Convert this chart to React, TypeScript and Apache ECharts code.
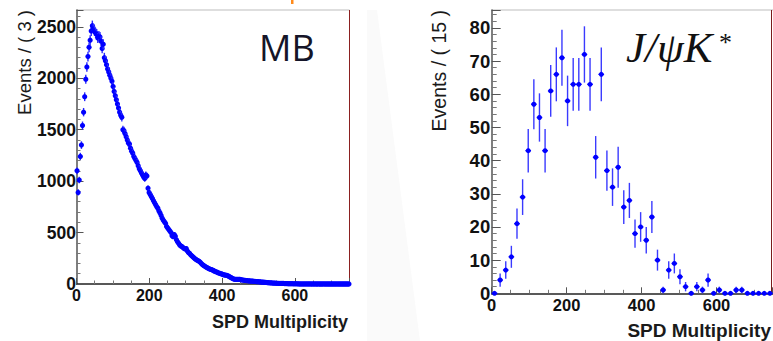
import React, { useEffect, useRef } from "react";
import * as echarts from "echarts";

// ---- Data ----
const MB_BIN_WIDTH = 3;
const MB_COUNTS = [
  1100, 890, 1010, 1240, 1350, 1540, 1670, 1820, 1990, 2110,
  2210, 2300, 2370, 2460, 2510, 2480, 2460, 2440, 2430, 2390,
  2410, 2400, 2360, 2290, 2330, 2200, 2170, 2130, 2090, 2060,
  2030, 2000, 1970, 1920, 1870, 1830, 1790, 1750, 1710, 1670,
  1640, 1620, 1500, 1490, 1460, 1430, 1400, 1370, 1360, 1320,
  1290, 1270, 1240, 1220, 1200, 1180, 1150, 1120, 1100, 1080,
  1060, 1040, 1025, 1060, 1050, 930, 890, 870, 850, 830,
  810, 790, 770, 750, 735, 710, 690, 665, 640, 620,
  605, 590, 560, 545, 530, 515, 500, 470, 460, 480,
  465, 430, 410, 395, 380, 370, 365, 355, 345, 340,
  345, 320, 305, 298, 285, 275, 265, 255, 245, 238,
  230, 225, 218, 210, 198, 186, 180, 172, 165, 160,
  152, 148, 143, 140, 136, 130, 125, 120, 116, 110,
  106, 102, 99, 95, 91, 88, 86, 84, 80, 75,
  68, 62, 55, 50, 46, 46, 45, 44, 46, 45,
  42, 40, 38, 36, 35, 33, 32, 31, 30, 29,
  28, 27, 26, 25, 24, 23, 22, 21, 20, 19,
  18, 17, 16, 15, 14, 13, 12, 11, 10, 9,
  9, 8, 8, 7, 7, 6, 6, 5, 5, 5,
  4, 4, 4, 3, 3, 3, 3, 3, 2, 2,
  2, 2, 2, 1, 1, 1, 1, 1, 1, 1,
  1, 1, 1, 1, 1, 0, 1, 0, 1, 0,
  0, 1, 0, 0, 0, 0, 1, 0, 0, 0,
  0, 0, 0, 0, 0, 0, 0, 0, 0, 0,
  0, 0, 0, 0, 0, 0, 0, 0, 0, 0,
];

const JPSI_BIN_WIDTH = 15;
const JPSI_COUNTS = [
  0, 4, 7, 11, 21, 29, 43, 57, 53, 43,
  61, 66, 71, 58, 63, 63, 72, 63, 41, 66,
  37, 32, 38, 26, 28, 18, 20, 16, 23, 10,
  1, 7, 9, 5, 2, 0, 2, 1, 4, 0,
  1, 0, 0, 1, 1, 0, 0, 0, 0, 0,
];

const X_TITLE = "SPD Multiplicity";
const MB_Y_TITLE = "Events / ( 3 )";
const JPSI_Y_TITLE = "Events / ( 15 )";
const MB_LABEL = "MB";
const JPSI_LABEL = "J/ψK";
const JPSI_SUP = "*";

const FONT = "Liberation Sans, Arial, Helvetica, sans-serif";
const BLUE = "#0000ff";

function toPoints(counts: number[], width: number) {
  return counts.map((c, i) => [i * width + width / 2, c]);
}

function makeRender(binWidth: number, radius: number, errColor: string, errWidth: number) {
  return (params: any, api: any) => {
    const x = api.value(0);
    const y = api.value(1);
    const err = Math.sqrt(y);
    const c = api.coord([x, y]);
    const top = api.coord([x, y + err]);
    const bot = api.coord([x, Math.max(y - err, 0)]);
    const l = api.coord([x - binWidth / 2, y]);
    const r = api.coord([x + binWidth / 2, y]);
    const children: any[] = [];
    if (err > 0) {
      children.push({
        type: "line",
        shape: { x1: c[0], y1: top[1], x2: c[0], y2: bot[1] },
        style: { stroke: errColor, lineWidth: errWidth },
      });
    }
    children.push({
      type: "line",
      shape: { x1: l[0], y1: c[1], x2: r[0], y2: c[1] },
      style: { stroke: BLUE, lineWidth: 1.3 },
    });
    children.push({
      type: "circle",
      shape: { cx: c[0], cy: c[1], r: radius },
      style: { fill: BLUE },
    });
    return { type: "group", children };
  };
}

function axisCommon(fontSize: number, tickLen: number, minorLen: number, split: number, lineColor: string, margin: number) {
  return {
    axisLine: { show: true, onZero: false, lineStyle: { color: lineColor, width: 1.5 } },
    axisTick: { show: true, inside: true, length: tickLen, lineStyle: { color: "#555", width: 1 } },
    minorTick: { show: true, splitNumber: split, length: minorLen, lineStyle: { color: "#777", width: 1 } },
    splitLine: { show: false },
    minorSplitLine: { show: false },
    axisLabel: {
      color: "#111",
      fontFamily: FONT,
      fontWeight: "bold",
      fontSize,
      margin,
      showMaxLabel: false,
      formatter: (v: number) => String(v),
    },
  };
}

export default function App() {
  const ref = useRef<HTMLDivElement>(null);

  useEffect(() => {
    if (!ref.current) return;
    const chart = echarts.init(ref.current, undefined, { renderer: "svg" });

    const L = { left: 76.5, top: 10, width: 273, height: 274 };
    const R = { left: 491.7, top: 10, width: 281, height: 283.3 };

    const option: any = {
      animation: false,
      backgroundColor: "#ffffff",
      grid: [
        { ...L, containLabel: false },
        { ...R, containLabel: false },
      ],
      xAxis: [
        { gridIndex: 0, type: "value", min: 0, max: 750, interval: 200, ...axisCommon(16, 6, 3.5, 4, "#222", 3) },
        { gridIndex: 1, type: "value", min: 0, max: 750, interval: 200, ...axisCommon(16.5, 6, 3.5, 4, "#222", 3) },
      ],
      yAxis: [
        { gridIndex: 0, type: "value", min: 0, max: 2663, interval: 500, ...axisCommon(17.5, 7, 4, 5, "#555", 0.5) },
        { gridIndex: 1, type: "value", min: 0, max: 85.4, interval: 10, ...axisCommon(18.5, 9, 5, 5, "#555", 1.5) },
      ],
      series: [
        {
          type: "custom",
          xAxisIndex: 0,
          yAxisIndex: 0,
          data: toPoints(MB_COUNTS, MB_BIN_WIDTH),
          renderItem: makeRender(MB_BIN_WIDTH, 2.6, "#2a2aff", 1.4),
          clip: false,
          z: 3,
        },
        {
          type: "custom",
          xAxisIndex: 1,
          yAxisIndex: 1,
          data: toPoints(JPSI_COUNTS, JPSI_BIN_WIDTH),
          renderItem: makeRender(JPSI_BIN_WIDTH, 2.5, "#3a3aff", 1.4),
          clip: false,
          z: 3,
        },
      ],
      graphic: [
        {
          type: "polygon", z: -10, silent: true,
          shape: { points: [[367, 10], [377, 10], [420, 341], [367, 341]] },
          style: { fill: "#fafafa" },
        },
        { type: "rect", shape: { x: 291, y: 0, width: 2.5, height: 4 }, style: { fill: "#ff8a1a" } },
        { type: "line", shape: { x1: 76.5, y1: 10, x2: 349.5, y2: 10 }, style: { stroke: "#bdbdbd", lineWidth: 1 } },
        { type: "line", shape: { x1: 349.5, y1: 10, x2: 349.5, y2: 284 }, style: { stroke: "#8b2020", lineWidth: 1 } },
        { type: "line", shape: { x1: 491.7, y1: 10, x2: 773, y2: 10 }, style: { stroke: "#bdbdbd", lineWidth: 1 } },
        { type: "line", shape: { x1: 771.5, y1: 10, x2: 771.5, y2: 293.3 }, style: { stroke: "#7a1a1a", lineWidth: 1 } },
        {
          type: "text", x: 348, y: 322,
          style: { text: X_TITLE, align: "right", verticalAlign: "middle", font: `bold 18px ${FONT}`, fill: "#1a1a1a" },
        },
        {
          type: "text", x: 771, y: 330,
          style: { text: X_TITLE, align: "right", verticalAlign: "middle", font: `bold 19px ${FONT}`, fill: "#1a1a1a" },
        },
        {
          type: "text", x: 24, y: 10, rotation: Math.PI / 2,
          style: { text: MB_Y_TITLE, align: "right", verticalAlign: "middle", font: `18.5px ${FONT}`, fill: "#1a1a1a" },
        },
        {
          type: "text", x: 439, y: 10, rotation: Math.PI / 2,
          style: { text: JPSI_Y_TITLE, align: "right", verticalAlign: "middle", font: `19.5px ${FONT}`, fill: "#1a1a1a" },
        },
        {
          type: "text", x: 259, y: 47,
          style: { text: MB_LABEL, align: "left", verticalAlign: "middle", font: `36px "Open Sans", sans-serif`, fill: "#151528" },
        },
        {
          type: "text", x: 626, y: 47,
          style: { text: JPSI_LABEL, align: "left", verticalAlign: "middle", font: `italic 43px "Liberation Serif", serif`, fill: "#111" },
        },
        {
          type: "text", x: 719, y: 42,
          style: { text: JPSI_SUP, align: "left", verticalAlign: "middle", font: `26px "Liberation Serif", serif`, fill: "#111" },
        },
      ],
    };

    chart.setOption(option);
    return () => chart.dispose();
  }, []);

  return (
    <div
      ref={ref}
      style={{ position: "absolute", left: 0, top: 0, width: 773, height: 341, background: "#fff" }}
    />
  );
}
